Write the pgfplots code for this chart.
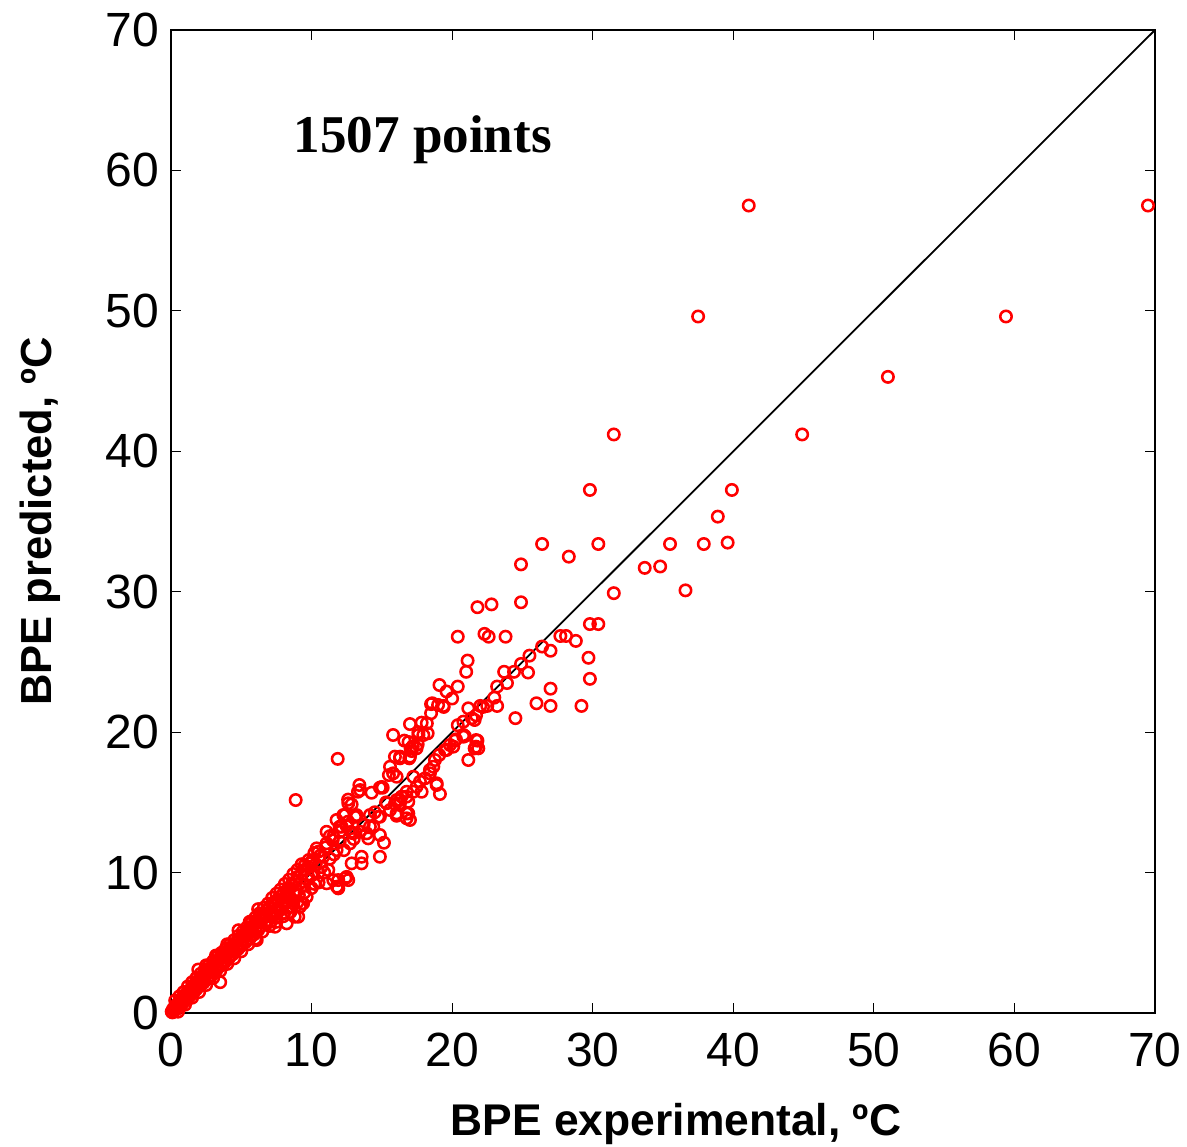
\documentclass[border=0pt]{standalone}
\usepackage{pgfplots}
\pgfplotsset{compat=1.18}
\usepackage{pgfplotstable}
\usepackage{fontspec}
\setmainfont{Liberation Sans}
\newfontfamily\timesfont{Liberation Serif}
\pgfplotstableread{
x y
0.05 0.1
0.1 0.05
0.15 0.3
0.2 0.2
0.3 0.45
0.3 0.9
0.35 0.25
0.4 0.6
0.5 0.4
0.5 0.1
0.55 0.75
0.6 0.55
0.6 1.2
0.7 0.9
0.75 0.6
0.8 1.05
0.9 0.8
0.9 1.5
0.95 1.2
1.0 0.95
1.0 0.6
1.1 1.35
1.15 1.0
1.2 1.5
1.2 1.9
1.3 1.2
1.35 1.65
1.4 1.3
1.5 1.8
1.5 2.2
1.5 1.1
1.55 1.45
1.6 1.95
1.7 1.6
1.75 2.1
1.8 1.7
1.8 2.5
1.9 2.25
1.94 3.1
2.0 1.9
2.0 1.5
2.05 2.45
2.1 2.0
2.1 2.8
2.2 2.6
2.3 2.15
2.35 2.75
2.4 2.3
2.4 3.1
2.5 2.9
2.5 2.0
2.5 3.4
2.6 2.45
2.65 3.05
2.7 2.6
2.7 3.4
2.8 3.2
2.9 2.7
2.95 3.35
3.0 2.9
3.0 3.7
3.0 2.5
3.1 3.5
3.2 3.0
3.2 4.1
3.25 3.65
3.3 3.2
3.3 4.0
3.4 3.8
3.5 3.35
3.5 3.0
3.5 2.2
3.55 3.95
3.6 3.45
3.6 4.3
3.7 4.1
3.8 3.6
3.85 4.25
3.9 3.75
3.9 4.6
4.0 4.4
4.0 3.5
4.0 4.9
4.1 3.9
4.15 4.55
4.2 4.05
4.2 4.9
4.3 4.7
4.4 4.2
4.45 4.85
4.5 4.35
4.5 5.2
4.5 3.9
4.6 5.0
4.7 4.5
4.75 5.15
4.8 4.6
4.8 5.5
4.8 5.9
4.9 5.3
5.0 4.8
5.0 4.4
5.05 5.45
5.1 4.9
5.1 5.8
5.2 5.6
5.3 5.05
5.35 5.8
5.4 5.2
5.4 6.1
5.5 5.9
5.5 4.9
5.6 5.3
5.6 6.5
5.65 6.1
5.7 5.5
5.7 6.4
5.8 6.2
5.9 5.6
6.0 6.4
6.0 6.8
6.0 5.3
6.05 5.75
6.1 6.6
6.1 5.2
6.2 5.9
6.2 7.4
6.3 6.9
6.3 7.1
6.4 6.2
6.5 6.7
6.5 5.8
6.6 7.1
6.6 7.5
6.7 6.4
6.8 7.3
6.9 6.6
6.9 7.8
7.0 7.5
7.0 6.9
7.0 6.2
7.1 6.5
7.2 7.7
7.2 8.2
7.3 7.0
7.4 7.9
7.4 6.15
7.5 7.2
7.5 6.8
7.5 8.5
7.5 6.5
7.6 8.1
7.7 7.4
7.75 7.34
7.8 8.3
7.8 8.8
7.9 7.6
8.0 8.5
8.0 7.1
8.0 6.9
8.1 7.8
8.1 9.2
8.2 8.7
8.23 6.39
8.23 8.28
8.3 7.5
8.4 8.9
8.4 9.5
8.5 8.2
8.5 7.2
8.6 9.2
8.6 7.6
8.7 7.81
8.7 9.9
8.8 6.86
8.8 8.5
8.87 15.17
8.9 9.4
8.94 8.76
9.0 9.7
9.0 10.2
9.0 7.9
9.05 6.86
9.1 8.4
9.17 7.57
9.17 9.24
9.3 9.9
9.3 10.6
9.3 7.8
9.4 7.81
9.4 9.1
9.5 10.2
9.5 10.5
9.5 8.6
9.65 8.28
9.7 9.5
9.8 10.4
9.8 10.9
9.89 10.66
10.0 9.8
10.0 10.8
10.0 8.9
10.1 10.9
10.2 9.2
10.2 11.4
10.3 10.6
10.36 11.73
10.5 10.0
10.5 11.5
10.5 9.3
10.6 11.2
10.7 10.4
10.83 11.13
10.9 10.0
11.0 11.8
11.07 12.91
11.07 9.24
11.07 12.09
11.19 10.19
11.3 11.0
11.3 12.6
11.5 12.3
11.54 12.56
11.54 9.47
11.6 11.3
11.78 13.75
11.78 11.61
11.8 9.0
11.86 18.1
11.9 8.88
11.9 9.47
12.0 12.2
12.0 12.9
12.0 13.27
12.14 13.27
12.26 14.1
12.3 11.6
12.38 14.1
12.4 9.6
12.5 9.7
12.5 13.3
12.6 13.63
12.6 15.2
12.61 9.47
12.61 14.94
12.73 12.09
12.8 12.9
12.85 14.86
12.85 10.66
12.97 12.8
13.0 12.4
13.09 13.98
13.2 13.98
13.2 14.1
13.3 15.76
13.4 16.24
13.44 12.91
13.46 15.88
13.56 11.13
13.56 10.66
13.7 13.4
13.92 12.8
14.03 12.44
14.15 13.27
14.15 14.1
14.27 15.69
14.39 13.27
14.5 14.3
14.75 13.98
14.86 16.05
14.86 13.98
14.86 12.68
14.86 11.13
15.0 16.1
15.06 16.05
15.15 12.13
15.3 15.0
15.34 14.94
15.5 16.95
15.58 17.54
15.58 14.46
15.8 17.07
15.8 19.8
15.93 18.26
15.93 14.89
16.05 14.05
16.05 16.83
16.05 15.17
16.05 14.22
16.29 18.14
16.29 15.17
16.3 18.26
16.29 14.94
16.4 15.41
16.6 19.4
16.76 15.41
16.76 13.87
16.76 15.76
16.76 14.22
16.9 19.3
16.88 15.05
16.88 14.22
16.95 18.14
17.0 20.58
17.0 18.26
17.0 13.75
17.05 18.83
17.12 18.66
17.2 19.0
17.24 15.76
17.24 16.83
17.47 18.85
17.47 16.12
17.55 19.14
17.6 19.8
17.6 20.0
17.71 16.48
17.83 20.68
17.83 15.76
17.95 19.8
18.07 16.72
18.2 20.63
18.26 19.92
18.42 17.31
18.42 17.07
18.5 22.0
18.5 21.35
18.59 22.06
18.66 17.54
18.78 18.02
18.9 16.24
18.9 16.36
19.08 18.38
19.1 23.36
19.0 21.94
19.13 15.6
19.37 21.87
19.4 21.8
19.49 18.73
19.6 22.9
19.6 18.73
19.84 19.09
20.0 22.4
20.08 18.97
20.2 19.4
20.27 19.49
20.4 23.25
20.4 26.8
20.4 20.5
20.8 20.75
20.8 19.8
20.8 19.68
20.9 19.73
21.0 24.3
21.1 25.1
21.15 18.02
21.15 21.7
21.4 21.0
21.6 18.85
21.6 20.87
21.7 19.44
21.7 21.2
21.7 18.97
21.8 28.9
21.8 19.4
21.86 18.85
22.0 21.87
22.2 21.8
22.3 27.0
22.5 21.87
22.6 26.8
22.8 29.1
23.0 22.46
23.2 23.25
23.2 21.87
23.7 24.3
23.8 26.8
23.9 23.5
24.4 24.3
24.5 21.0
24.9 24.86
24.9 31.95
24.9 29.25
25.4 24.25
25.5 25.45
26.0 22.06
26.4 33.4
26.4 26.1
27.0 25.8
27.0 23.1
27.0 21.87
27.7 26.85
28.1 26.85
28.3 32.5
28.8 26.5
29.2 21.87
29.7 25.3
29.8 23.8
29.8 27.7
29.8 37.25
30.4 27.7
30.4 33.4
31.5 29.9
31.5 41.2
33.7 31.7
34.8 31.8
35.5 33.4
36.6 30.1
37.5 49.6
37.9 33.4
38.9 35.35
39.6 33.5
39.9 37.25
41.1 57.5
44.9 41.2
51.0 45.3
59.4 49.6
69.5 57.5
}\bpedata
\pgfplotstableread{
x y
0 0
70 70
}\diagline
\begin{document}
\begin{tikzpicture}
\begin{axis}[
  scale only axis,
  width=328pt, height=327.7pt,
  xmin=0, xmax=70, ymin=0, ymax=70,
  xtick={0,10,...,70}, ytick={0,10,...,70},
  tick align=inside,
  major tick length=3.3pt,
  axis line style={line width=0.7pt},
  tick style={line width=0.7pt, black},
  every tick/.style={black},
  ticklabel style={font=\fontsize{16}{16}\selectfont, inner sep=0pt},
  /pgf/number format/assume math mode=true,
  xticklabel style={anchor=north, yshift=-6.4pt},
  yticklabel style={anchor=east, xshift=-3.7pt},
  clip=false,
]
\addplot[only marks, mark=o, mark size=1.9pt, red, mark options={line width=0.85pt}] table[x=x,y=y] {\bpedata};
\addplot[black, line width=0.6pt, no marks] table[x=x,y=y] {\diagline};
\node[anchor=base west, inner sep=0pt, font=\timesfont\bfseries\fontsize{17.7}{17.7}\selectfont] at (axis cs:8.68,61.25) {1507 points};
\end{axis}
\node[anchor=base, inner sep=0pt, font=\bfseries\fontsize{14.8}{14.8}\selectfont] at ([xshift=4.3pt,yshift=-40.7pt]current axis.south) {BPE experimental, ºC};
\node[rotate=90, anchor=base, inner sep=0pt, font=\bfseries\fontsize{14.5}{14.5}\selectfont] at ([xshift=-39.7pt]current axis.west) {BPE predicted, ºC};
\path ([xshift=-57pt,yshift=-44.33pt]current axis.south west) rectangle ([xshift=10.67pt,yshift=10pt]current axis.north east);
\end{tikzpicture}
\end{document}
